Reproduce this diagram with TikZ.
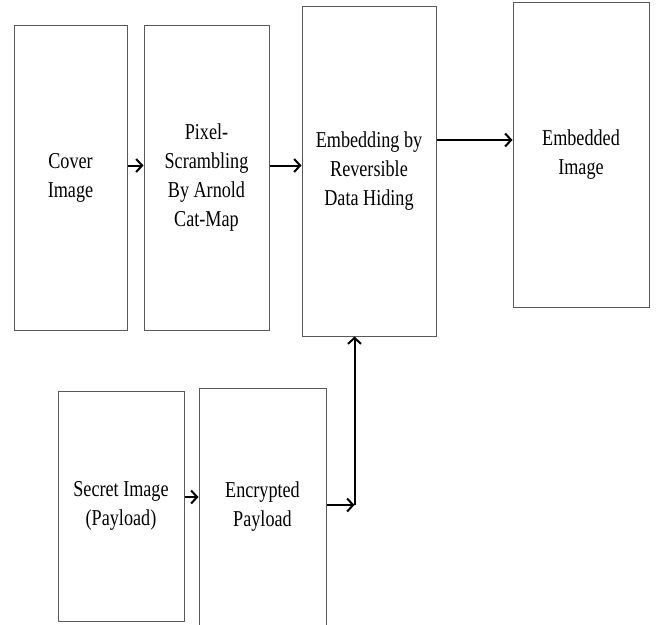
\documentclass[tikz,border=0pt]{standalone}
\usepackage{fontspec}
\setmainfont{Liberation Serif}[FakeStretch=0.8]
\usetikzlibrary{arrows.meta, positioning, calc}

\tikzset{
  block/.style={draw=black!65, line width=1pt, align=center, inner sep=0pt,
    text=black, font=\fontsize{22.7}{29}\selectfont},
  flow/.style={-{Straight Barb[length=6pt,width=13pt]}, line width=2pt}
}

\begin{document}
\begin{tikzpicture}[x=1pt, y=-1pt]
\useasboundingbox (0,0) rectangle (656,624);

% top row
\node[block, minimum width=113pt, minimum height=305pt] (cover) at (70.5,177.5) {Cover\\Image};
\node[block, minimum width=125pt, minimum height=305pt] (pixel) at (206.5,177.5) {Pixel-\\Scrambling\\By Arnold\\Cat-Map};
\node[block, minimum width=134pt, minimum height=330pt] (emb) at (369,171) {Embedding by\\Reversible\\Data Hiding};
\node[block, minimum width=136pt, minimum height=305pt] (out) at (581,154.5) {Embedded\\Image};

% bottom row
\node[block, minimum width=126pt, minimum height=230pt] (secret) at (121,506) {Secret Image\\(Payload)};
\node[block, minimum width=127pt, minimum height=238pt] (enc) at (262.5,507) {Encrypted\\Payload};

\coordinate (corner) at ([xshift=28pt, yshift=2pt]enc.east);

% connectors
\draw[flow] ([yshift=12pt]cover.east) -- ([yshift=12pt]cover.east -| pixel.west);
\draw[flow] ([yshift=12pt]pixel.east) -- ([yshift=12pt]pixel.east -| emb.west);
\draw[flow] ([yshift=31pt]emb.east) -- ([yshift=31pt]emb.east -| out.west);
\draw[flow] ([yshift=9pt]secret.east) -- ([yshift=9pt]secret.east -| enc.west);
\draw[flow] (enc.east |- corner) -- (corner);
\draw[flow] (corner) -- (corner |- emb.south);
\end{tikzpicture}
\end{document}
